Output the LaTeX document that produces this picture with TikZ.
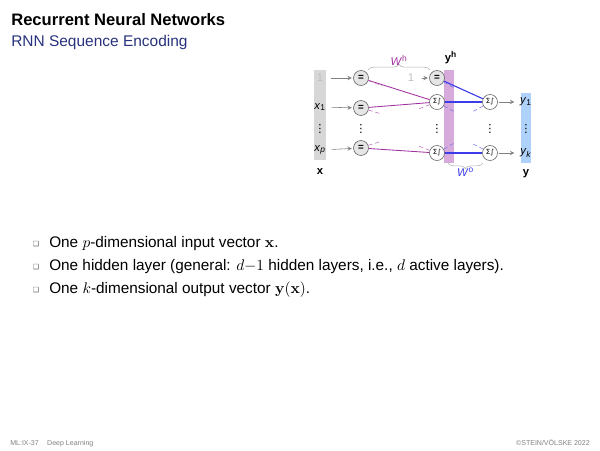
\documentclass[tikz,border=0pt]{standalone}
\usepackage[no-math]{fontspec}
\setmainfont{Liberation Sans}
\newfontfamily\symfont{DejaVu Sans}
\usetikzlibrary{decorations.pathreplacing}
\definecolor{hcolor}{RGB}{160,50,160}
\definecolor{ocolor}{RGB}{60,60,235}
\definecolor{subtitlecolor}{RGB}{40,50,125}
\definecolor{xbarcolor}{RGB}{215,215,215}
\definecolor{hbarcolor}{RGB}{215,170,220}
\definecolor{ybarcolor}{RGB}{175,210,250}
\newcommand{\sigstep}{{\symfont Σ∫}}
\newcommand{\vdotsmark}{{\symfont ⋮}}
\newcommand{\itemrow}[3]{\node[bulletmark] (bullet#1) at (36,#2-3) {\symfont ❑};
    \node[itemtext] (item#1) at (49,#2) {#3};}

\begin{document}
\begin{tikzpicture}
                [x=0.025cm,y=-0.025cm,
                neuron/.style={circle,draw=gray!70!black,minimum size=0.375cm,inner sep=0pt,font=\fontsize{5}{5}\selectfont},
                inneuron/.style={neuron,fill=gray!20,font=\scriptsize\bfseries},
                barlabel/.style={inner sep=0pt,minimum width=0.25cm,font=\footnotesize},
                dotslabel/.style={inner sep=0pt,font=\fontsize{8}{8}\selectfont},
                veclabel/.style={font=\footnotesize\bfseries},
                arrow/.style={->,>=stealth,gray,shorten <=4pt,shorten >=1pt},
                hconn/.style={hcolor,semithick},
                oconn/.style={ocolor,thick},
                hstub/.style={hcolor!70,densely dashed,thin},
                ostub/.style={ocolor!70,densely dashed,thin},
                brace/.style={decorate,decoration={brace,amplitude=4pt},gray!60},
                bulletmark/.style={inner sep=0pt,font=\fontsize{5}{6}\selectfont,text=gray!70!black},
                itemtext/.style={anchor=base west,inner sep=0pt,font=\fontsize{10.9}{13}\selectfont},
                ]
                \useasboundingbox (0,0) rectangle (600,450);
                \node[anchor=base west,inner sep=0pt,font=\fontsize{11.8}{14}\selectfont\bfseries] (title) at (11,25) {Recurrent Neural Networks};
                \node[anchor=base west,inner sep=0pt,font=\fontsize{11}{13}\selectfont,text=subtitlecolor] (subtitle) at (11,46) {RNN Sequence Encoding};

                \fill[xbarcolor] (314,70) rectangle (326,160);
                \fill[hbarcolor] (444,70) rectangle (454,163);
                \fill[ybarcolor] (521,93) rectangle (531,163);

                \node[barlabel,text=gray!50] (l1) at (320,78) {1};
                \node[barlabel] (lx1) at (320,107) {\textit{x}\textsubscript{1}};
                \node[dotslabel] (lxdots) at (320,129) {\vdotsmark};
                \node[barlabel] (lxp) at (320,150) {\textit{x}\textsubscript{\textit{p}}};
                \node[veclabel] (xvec) at (320,172) {x};
                \node[barlabel,text=gray!50] (lrec) at (411,78) {1};
                \node[veclabel] (yh) at (451,58) {y\textsuperscript{h}};
                \node[barlabel] (ly1) at (526,102) {\textit{y}\textsubscript{1}};
                \node[dotslabel] (lydots) at (526,129) {\vdotsmark};
                \node[barlabel] (lyk) at (526,153) {\textit{y}\textsubscript{\textit{k}}};
                \node[veclabel] (yvec) at (526,174) {y};

                \node[inneuron] (in1) at (361,78) {=};
                \node[inneuron] (inx1) at (361,108) {=};
                \node[dotslabel] (indots) at (361,129) {\vdotsmark};
                \node[inneuron] (inxp) at (361,148) {=};
                \node[inneuron] (rec) at (437,78) {=};
                \node[neuron] (hid1) at (437,102) {\sigstep};
                \node[dotslabel] (hiddots) at (437,129) {\vdotsmark};
                \node[neuron] (hidk) at (437,153) {\sigstep};
                \node[neuron] (out1) at (490,102) {\sigstep};
                \node[dotslabel] (outdots) at (490,129) {\vdotsmark};
                \node[neuron] (outk) at (490,153) {\sigstep};

                \draw[arrow] (l1) -- (in1);
                \draw[arrow] (lx1) -- (inx1);
                \draw[arrow] (lxp) -- (inxp);
                \draw[arrow] (lrec) -- (rec);
                \draw[arrow,shorten <=1pt,shorten >=4pt] (out1) -- (ly1);
                \draw[arrow,shorten <=1pt,shorten >=4pt] (outk) -- (lyk);

                \draw[hconn] (in1) -- (hid1);
                \draw[hconn] (inx1) -- (hid1);
                \draw[hconn] (inxp) -- (hidk);
                \draw[oconn] (rec) -- (out1);
                \draw[oconn] (hid1) -- (out1);
                \draw[oconn] (hidk) -- (outk);
                \foreach \n/\a/\dx/\dy in {in1/-20/14/5,inx1/-15/13/4,inxp/20/13/-4,hid1/200/-13/5,hidk/160/-13/-5}
                    \draw[hstub] (\n.\a) -- ++(\dx,\dy);
                \foreach \n/\a/\dx/\dy in {rec/-30/12/7,hid1/-30/11/6,out1/210/-11/6,hidk/30/12/-7,outk/150/-12/-6}
                    \draw[ostub] (\n.\a) -- ++(\dx,\dy);

                \draw[brace] (368,70) -- (430,70) node[midway,above=3pt,inner sep=0pt,font=\footnotesize,text=hcolor] (wh) {\textit{W}\textsuperscript{h}};
                \draw[brace] (483,163) -- (448,163) node[midway,below=3pt,inner sep=0pt,font=\footnotesize,text=ocolor] (wo) {\textit{W}\textsuperscript{o}};

                \itemrow{1}{247}{One $p$-dimensional input vector $\mathbf{x}$.}
                \itemrow{2}{270}{One hidden layer (general: $d{-}1$ hidden layers, i.e., $d$ active layers).}
                \itemrow{3}{293}{One $k$-dimensional output vector $\mathbf{y}(\mathbf{x})$.}

                \node[anchor=base west,inner sep=0pt,font=\fontsize{5}{6}\selectfont,text=gray] (footleft) at (10,445) {ML:IX-37\hspace{1.2em}Deep Learning};
                \node[anchor=base east,inner sep=0pt,font=\fontsize{5}{6}\selectfont,text=gray] (footright) at (590,445) {\textcopyright STEIN/VÖLSKE 2022};
            \end{tikzpicture}
\end{document}
